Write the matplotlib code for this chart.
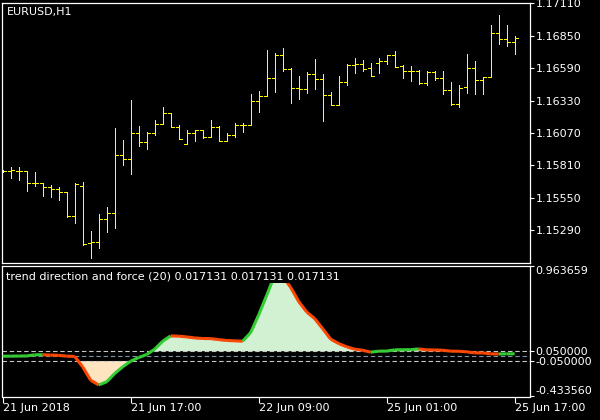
import numpy as np
import matplotlib
matplotlib.use("Agg")
import matplotlib.pyplot as plt
from matplotlib.collections import LineCollection
from matplotlib.patches import Rectangle

# ---------------- data ----------------
opens = [1.15766, 1.15766, 1.15766, 1.15766, 1.15669, 1.15669, 1.15637, 1.15621, 1.15597, 1.15402,
         1.15643, 1.15188, 1.15194, 1.15378, 1.15426, 1.15891, 1.15859, 1.16068, 1.15996, 1.16068,
         1.16140, 1.16228, 1.16116, 1.15980, 1.16068, 1.16092, 1.16036, 1.16116, 1.16004, 1.16052,
         1.16132, 1.16132, 1.16327, 1.16369, 1.16509, 1.16693, 1.16581, 1.16429, 1.16421, 1.16541,
         1.16501, 1.16373, 1.16292, 1.16477, 1.16613, 1.16621, 1.16589, 1.16629, 1.16645, 1.16693,
         1.16605, 1.16565, 1.16565, 1.16469, 1.16559, 1.16514, 1.16413, 1.16300, 1.16437, 1.16589,
         1.16493, 1.16517, 1.16870, 1.16821, 1.16797]
highs = [1.15774, 1.15798, 1.15798, 1.15766, 1.15758, 1.15669, 1.15653, 1.15637, 1.15600, 1.15669,
         1.15677, 1.15285, 1.15421, 1.15477, 1.16110, 1.16014, 1.16335, 1.16126, 1.16078, 1.16175,
         1.16279, 1.16228, 1.16132, 1.16092, 1.16092, 1.16092, 1.16175, 1.16126, 1.16068, 1.16148,
         1.16148, 1.16383, 1.16407, 1.16736, 1.16712, 1.16752, 1.16589, 1.16527, 1.16559, 1.16664,
         1.16543, 1.16397, 1.16527, 1.16623, 1.16672, 1.16656, 1.16631, 1.16672, 1.16696, 1.16728,
         1.16615, 1.16607, 1.16575, 1.16567, 1.16567, 1.16567, 1.16479, 1.16453, 1.16704, 1.16648,
         1.16517, 1.16936, 1.17016, 1.16936, 1.16846]
lows = [1.15758, 1.15712, 1.15696, 1.15608, 1.15648, 1.15568, 1.15560, 1.15536, 1.15397, 1.15346,
        1.15172, 1.15071, 1.15146, 1.15279, 1.15311, 1.15816, 1.15744, 1.15968, 1.15944, 1.16054,
        1.16140, 1.16116, 1.16020, 1.15980, 1.16004, 1.16028, 1.16036, 1.16004, 1.16004, 1.16036,
        1.16081, 1.16132, 1.16241, 1.16369, 1.16401, 1.16570, 1.16313, 1.16345, 1.16393, 1.16425,
        1.16169, 1.16292, 1.16292, 1.16457, 1.16554, 1.16570, 1.16530, 1.16554, 1.16626, 1.16597,
        1.16514, 1.16490, 1.16466, 1.16457, 1.16498, 1.16385, 1.16292, 1.16281, 1.16393, 1.16385,
        1.16385, 1.16517, 1.16786, 1.16770, 1.16706]
closes = [1.15766, 1.15774, 1.15762, 1.15669, 1.15669, 1.15637, 1.15621, 1.15597, 1.15402, 1.15659,
          1.15178, 1.15194, 1.15378, 1.15426, 1.15891, 1.15859, 1.16068, 1.15996, 1.16070, 1.16140,
          1.16228, 1.16116, 1.16020, 1.16068, 1.16092, 1.16036, 1.16116, 1.16004, 1.16052, 1.16132,
          1.16132, 1.16327, 1.16365, 1.16509, 1.16693, 1.16581, 1.16429, 1.16421, 1.16541, 1.16501,
          1.16373, 1.16292, 1.16477, 1.16613, 1.16621, 1.16581, 1.16530, 1.16645, 1.16693, 1.16602,
          1.16565, 1.16565, 1.16469, 1.16559, 1.16514, 1.16413, 1.16300, 1.16429, 1.16589, 1.16493,
          1.16517, 1.16870, 1.16821, 1.16797, 1.16829]

trend = [-0.004, -0.003, -0.002, -0.001, 0.011, 0.012, 0.008, 0.005, -0.003, -0.006,
         -0.117, -0.26, -0.31, -0.277, -0.188, -0.117, -0.057, -0.018, 0.014, 0.071,
         0.156, 0.213, 0.21, 0.202, 0.191, 0.185, 0.184, 0.173, 0.164, 0.16,
         0.156, 0.248, 0.436, 0.645, 0.86, 0.85, 0.73, 0.58, 0.468, 0.397,
         0.29, 0.178, 0.131, 0.096, 0.071, 0.06, 0.039, 0.05, 0.051, 0.064,
         0.065, 0.066, 0.074, 0.064, 0.063, 0.06, 0.05, 0.049, 0.043, 0.032,
         0.031, 0.021, 0.02, 0.021, 0.022]

price_ticks = [1.17110, 1.16850, 1.16590, 1.16330, 1.16070, 1.15810, 1.15550, 1.15290]
ind_ticks = [0.963659, 0.05, -0.05, -0.433560]
level_hi, level_lo = 0.05, -0.05
time_tick_pos = [0, 16, 32, 48, 64]
time_tick_labels = ["21 Jun 2018", "21 Jun 17:00", "22 Jun 09:00", "25 Jun 01:00", "25 Jun 17:00"]
symbol_label = "EURUSD,H1"
ind_label = "trend direction and force (20) 0.017131 0.017131 0.017131"

# ---------------- style ----------------
BG = "black"
FG = "white"
BAR_C = "#ffff00"
UP_C = "#32cd32"
DN_C = "#ff4500"
FILL_UP = "#d2f0d2"
FILL_DN = "#ffe4c0"
CLIP_TOP = 0.777

W, H = 600, 420
fig = plt.figure(figsize=(W / 100, H / 100), dpi=100, facecolor=BG)

def px_axes(left, top, right, bottom):
    return fig.add_axes([left / W, 1 - bottom / H, (right - left) / W, (bottom - top) / H])

ax1 = px_axes(2, 2.7, 530, 263)
ax2 = px_axes(2, 265.5, 530, 396.5)

n = len(opens)
x = np.arange(n)
xlim = ((2 - 2.67) / 8, (530 - 2.67) / 8)

for ax in (ax1, ax2):
    ax.set_facecolor(BG)
    for s in ax.spines.values():
        s.set_color(FG)
        s.set_linewidth(0.9)
    ax.set_xlim(*xlim)
    ax.tick_params(colors=FG, labelcolor=FG, labelsize=8, length=3, width=0.8, pad=1)
    ax.yaxis.tick_right()

# ---------------- price bars ----------------
o = np.array(opens); h = np.array(highs); l = np.array(lows); c = np.array(closes)
tw = 0.375
BAR_LW = 0.72
ax1.vlines(x, l, h, color=BAR_C, lw=BAR_LW, antialiased=False)
ax1.hlines(o, x - tw, x, color=BAR_C, lw=BAR_LW, antialiased=False)
ax1.hlines(c, x, x + tw, color=BAR_C, lw=BAR_LW, antialiased=False)
ax1.set_ylim(1.15028, 1.17115)
ax1.set_yticks(price_ticks)
ax1.set_yticklabels([f"{v:.5f}" for v in price_ticks])
ax1.set_xticks([])
ax1.text(0.009, 0.9654, symbol_label, transform=ax1.transAxes, color=FG,
         fontsize=8, va="center", ha="left")

# ---------------- indicator ----------------
v = np.array(trend, dtype=float)
ymin2, ymax2 = -0.433560, 0.963659
ax2.set_ylim(ymin2, ymax2)
clip = Rectangle((xlim[0], ymin2), xlim[1] - xlim[0], CLIP_TOP - ymin2,
                 transform=ax2.transData, facecolor="none", edgecolor="none")
ax2.add_patch(clip)

f1 = ax2.fill_between(x, v, level_hi, where=v > level_hi, interpolate=True,
                      color=FILL_UP, lw=0, zorder=1)
f2 = ax2.fill_between(x, v, level_lo, where=v < level_lo, interpolate=True,
                      color=FILL_DN, lw=0, zorder=1)
f1.set_clip_path(clip)
f2.set_clip_path(clip)

for lev, col in ((level_hi, "#c8c8c8"), (0.0, "#8090a8"), (level_lo, "#c8c8c8")):
    ln = ax2.axhline(lev, color=col, lw=0.8, zorder=2)
    ln.set_dashes((4, 2.5))

segs = [[(x[i], v[i]), (x[i + 1], v[i + 1])] for i in range(n - 1)]
cols = [UP_C if v[i + 1] >= v[i] else DN_C for i in range(n - 1)]
lc = LineCollection(segs, colors=cols, linewidths=2.2, zorder=3, capstyle="butt")
ax2.add_collection(lc)
lc.set_clip_path(clip)

ax2.set_yticks(ind_ticks)
ax2.set_yticklabels([f"{t:.6f}" for t in ind_ticks])
ylabels = ax2.get_yticklabels()
ylabels[0].set_va("top")
ylabels[-1].set_va("bottom")

ax2.set_xticks(time_tick_pos)
ax2.set_xticklabels(time_tick_labels)
for t in ax2.get_xticklabels():
    t.set_ha("left")
ax2.tick_params(axis="x", length=4, pad=1)

ax2.text(0.0076, 0.9145, ind_label, transform=ax2.transAxes, color=FG,
         fontsize=8, va="center", ha="left", zorder=5)

fig.savefig("out.png", dpi=100, facecolor=BG)
